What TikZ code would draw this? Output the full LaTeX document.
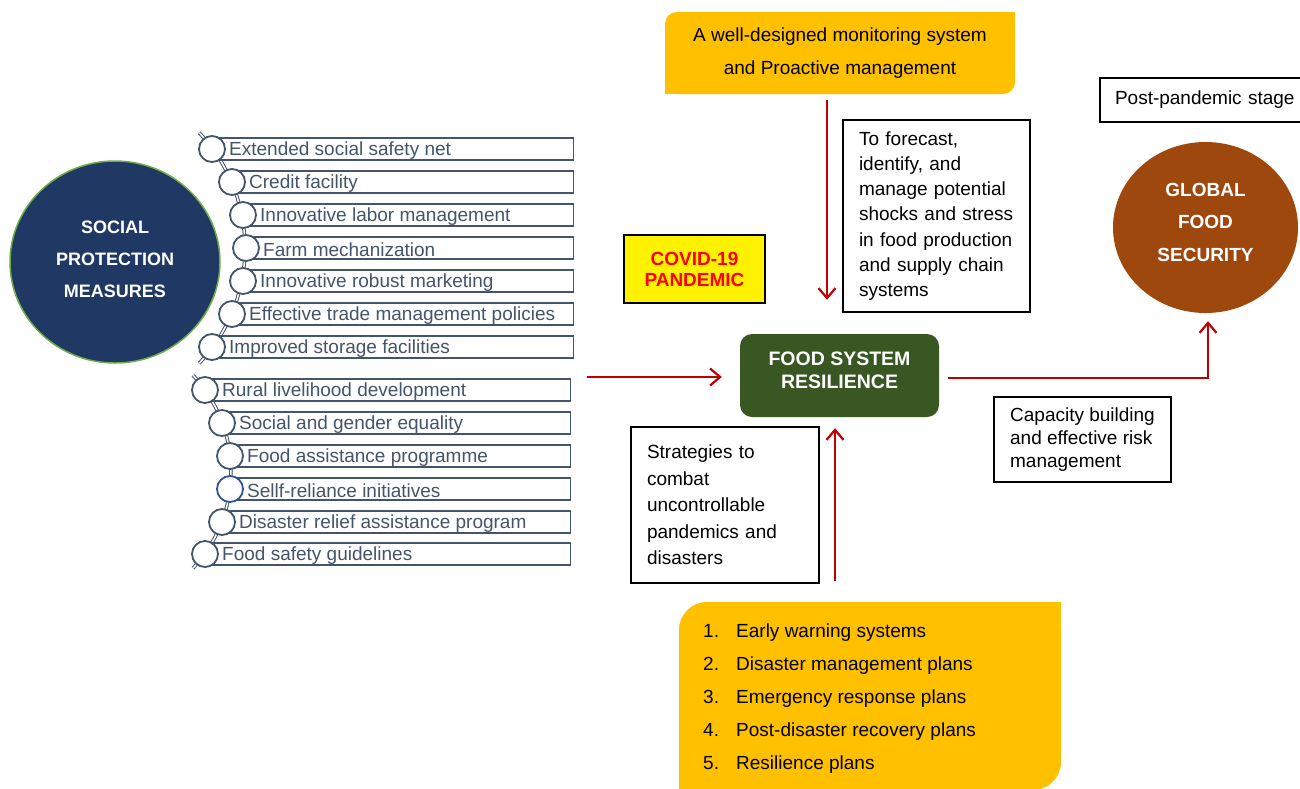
\documentclass[tikz,border=0pt]{standalone}
\usepackage{fontspec}
\setmainfont{Liberation Sans}
\usetikzlibrary{shapes.geometric,arrows.meta}

\definecolor{spnavy}{RGB}{32,56,100}
\definecolor{leafgreen}{RGB}{112,173,71}
\definecolor{slate}{RGB}{68,84,106}
\definecolor{selfblue}{RGB}{47,85,151}
\definecolor{gold}{RGB}{255,192,0}
\definecolor{fsrgreen}{RGB}{56,87,35}
\definecolor{gfsbrown}{RGB}{158,72,14}
\definecolor{arrowred}{RGB}{192,0,0}

\tikzstyle{listbox} = [rectangle, draw=slate, line width=1.3pt, fill=white, minimum height=22pt, inner sep=0pt]
\tikzstyle{listdot} = [circle, draw=slate, line width=1.8pt, fill=white, minimum size=26pt, inner sep=0pt]
\tikzstyle{listtext} = [anchor=west, inner sep=0pt, text=slate, font=\fontsize{19}{23}\selectfont]
\tikzstyle{chain} = [draw=slate, line width=1pt, double=white, double distance=1.5pt]
\tikzstyle{note} = [rectangle, draw=black, line width=2.5pt, fill=white, align=left, inner xsep=16pt, inner ysep=0pt]
\tikzstyle{goldbox} = [rectangle, fill=gold, rounded corners=12pt, inner sep=0pt]
\tikzstyle{bigcircle} = [ellipse, inner sep=0pt]
\tikzstyle{whitebold} = [text=white, align=center, inner sep=0pt]
\tikzstyle{arrow} = [line width=2pt, draw=arrowred, -{Straight Barb[length=10pt,width=17pt,line width=2.2pt]}]

\begin{document}
\begin{tikzpicture}[x=1pt, y=-1pt]
\useasboundingbox (0,0) rectangle (1300,788);

% social protection measures
\node (spm) [bigcircle, fill=spnavy, draw=leafgreen, line width=1.5pt, minimum width=210pt, minimum height=202pt] at (115,262) {};
\node (spmtext) [whitebold, font=\bfseries\fontsize{18}{32}\selectfont] at (115,259) {SOCIAL\\PROTECTION\\MEASURES};

% first list
\draw[chain] (77,248) ++(-43.3:168) arc[start angle=-43.3, end angle=43.3, radius=168];
\foreach \cx/\cy/\lab [count=\i] in {212/149/Extended social safety net, 232/182/Credit facility, 243/215/Innovative labor management, 246/248/Farm mechanization, 243/281/Innovative robust marketing, 232/314/Effective trade management policies, 212/347/Improved storage facilities}
{
  \node (box\i) [listbox, minimum width=573-\cx, anchor=west] at (\cx,\cy) {};
  \node (dot\i) [listdot] at (\cx,\cy) {};
  \node (txt\i) [listtext] at (\cx+17,\cy+2) {\lab};
}

% second list
\draw[chain] (89.6,471.7) ++(-43:141.4) arc[start angle=-43, end angle=43, radius=141.4];
\foreach \cx/\cy/\dc/\lab [count=\i from 8] in {205/390/slate/Rural livelihood development, 222/423/slate/Social and gender equality, 230/456/slate/Food assistance programme, 230/489/selfblue/Sellf-reliance initiatives, 222/522/slate/Disaster relief assistance program, 205/554/slate/Food safety guidelines}
{
  \node (box\i) [listbox, minimum width=570-\cx, anchor=west] at (\cx,\cy) {};
  \node (dot\i) [listdot, draw=\dc] at (\cx,\cy) {};
  \node (txt\i) [listtext] at (\cx+17,\cy+2) {\lab};
}

\node (covid) [rectangle, draw=black, line width=2pt, fill=yellow, minimum width=141pt, minimum height=68pt, text=red, align=center, font=\bfseries\fontsize{19}{21}\selectfont] at (694.5,269) {COVID-19\\PANDEMIC};

% monitoring box
\node (mon) [goldbox, minimum width=350pt, minimum height=82pt, align=center, font=\fontsize{19}{33}\selectfont] at (840,53) {A well-designed monitoring system\\and Proactive management};
\fill[gold] (mon.north east) rectangle ++(-14,14);
\fill[gold] (mon.south west) rectangle ++(14,-14);

\node (fcst) [note, minimum height=192pt, text width=155pt, font=\fontsize{19}{25.3}\selectfont] at (936.5,216) {To forecast,\\identify, and\\manage potential\\shocks and stress\\in food production\\and supply chain\\systems};

\node (fsr) [rectangle, rounded corners=12pt, fill=fsrgreen, minimum width=199pt, minimum height=83pt] at (839.5,375.5) {};
\node (fsrtext) [whitebold, font=\bfseries\fontsize{19.5}{23}\selectfont] at (839.5,370) {FOOD SYSTEM\\RESILIENCE};

\node (gfs) [bigcircle, fill=gfsbrown, minimum width=185pt, minimum height=171pt] at (1205.5,227.5) {};
\node (gfstext) [whitebold, font=\bfseries\fontsize{19}{32.5}\selectfont] at (1205.5,222) {GLOBAL\\FOOD\\SECURITY};

\node (post) [note, line width=1.2pt, inner xsep=15pt, text width=200pt, minimum height=44pt, font=\fontsize{19}{23}\selectfont] at (1215,100) {Post-pandemic stage};

\node (cap) [note, minimum width=177pt, minimum height=85pt, font=\fontsize{19}{23}\selectfont] at (1082.5,439.5) {Capacity building\\and effective risk\\management};

\node (strat) [note, minimum height=156pt, text width=156pt, font=\fontsize{19}{26.5}\selectfont] at (725,505) {Strategies to\\combat\\uncontrollable\\pandemics and\\disasters};

% plans box
\node (plansbox) [goldbox, rounded corners=28pt, minimum width=382pt, minimum height=188pt] at (870,696) {};
\fill[gold] (plansbox.north east) rectangle ++(-30,30);
\fill[gold] (plansbox.south west) rectangle ++(30,-30);
\node (plans) [anchor=west, align=left, inner sep=0pt, font=\fontsize{19}{33}\selectfont] at (703,699) {\makebox[33pt][l]{1.}Early warning systems\\\makebox[33pt][l]{2.}Disaster management plans\\\makebox[33pt][l]{3.}Emergency response plans\\\makebox[33pt][l]{4.}Post-disaster recovery plans\\\makebox[33pt][l]{5.}Resilience plans};

% connectors
\coordinate (listend) at (587,377);
\coordinate (downx) at (827,100);
\coordinate (upx) at (835,581);
\coordinate (rightx) at (948,378);
\draw [arrow, shorten >=18pt] (listend) -- (listend -| fsr.west);
\draw [arrow, shorten <=6pt, shorten >=34pt] (mon.south -| downx) -- (fsr.north -| downx);
\draw [arrow, shorten <=21pt, shorten >=11pt] (plansbox.north -| upx) -- (fsr.south -| upx);
\draw [arrow, shorten >=8pt] (rightx) -| ([xshift=2.5pt]gfs.south);

\end{tikzpicture}
\end{document}
